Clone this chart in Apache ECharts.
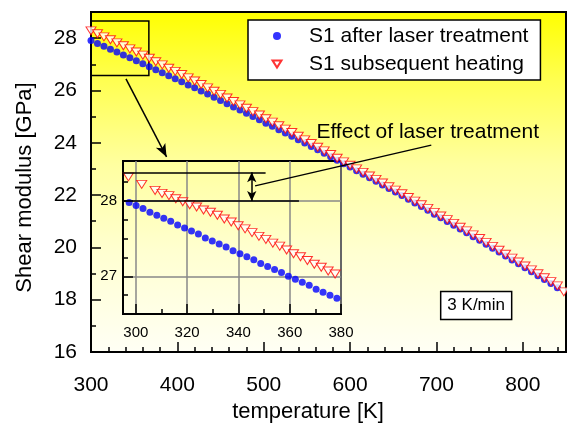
<!DOCTYPE html>
<html><head><meta charset="utf-8">
<script src="https://cdn.jsdelivr.net/npm/echarts@6/dist/echarts.min.js"></script>
<style>html,body{margin:0;padding:0;background:#fff}#c{width:567px;height:425px}</style>
</head><body><div id="c"></div>
<script>
// ---- main plot data ----
const mainTemps = [300,307.5,315,322.5,330,337.5,345,352.5,360,367.5,
  375,382.5,390,397.5,405,412.5,420,427.5,435,442.5,
  450,457.5,465,472.5,480,487.5,495,502.5,510,517.5,
  525,532.5,540,547.5,555,562.5,570,577.5,585,592.5,
  600,607.5,615,622.5,630,637.5,645,652.5,660,667.5,
  675,682.5,690,697.5,705,712.5,720,727.5,735,742.5,
  750,757.5,765,772.5,780,787.5,795,802.5,810,817.5,
  825,832.5,840];
const mainAfterLaser = [27.91,27.80,27.69,27.58,27.47,27.36,27.25,27.14,27.02,26.91,
  26.79,26.68,26.56,26.45,26.33,26.21,26.10,25.98,25.86,25.74,
  25.62,25.49,25.37,25.25,25.13,25.00,24.88,24.75,24.63,24.50,
  24.37,24.25,24.12,23.99,23.86,23.73,23.60,23.47,23.33,23.20,
  23.07,22.93,22.80,22.66,22.53,22.39,22.25,22.12,21.98,21.84,
  21.70,21.56,21.42,21.27,21.13,20.99,20.85,20.70,20.56,20.41,
  20.27,20.12,19.97,19.82,19.67,19.52,19.37,19.22,19.07,18.92,
  18.77,18.62,18.46];
const mainHeatingTemps = [300,307.5,315,322.5,330,337.5,345,352.5,360,367.5,
  375,382.5,390,397.5,405,412.5,420,427.5,435,442.5,
  450,457.5,465,472.5,480,487.5,495,502.5,510,517.5,
  525,532.5,540,547.5,555,562.5,570,577.5,585,592.5,
  600,607.5,615,622.5,630,637.5,645,652.5,660,667.5,
  675,682.5,690,697.5,705,712.5,720,727.5,735,742.5,
  750,757.5,765,772.5,780,787.5,795,802.5,810,817.5,
  825,832.5,840,847.5];
const mainHeating = [28.28,28.17,28.05,27.94,27.82,27.71,27.59,27.47,27.35,27.23,
  27.10,26.98,26.85,26.73,26.61,26.48,26.36,26.23,26.10,25.97,
  25.85,25.71,25.58,25.45,25.32,25.19,25.06,24.92,24.79,24.65,
  24.52,24.39,24.25,24.11,23.97,23.83,23.69,23.55,23.41,23.27,
  23.14,23.00,22.87,22.73,22.60,22.46,22.32,22.19,22.05,21.91,
  21.77,21.63,21.49,21.34,21.20,21.06,20.92,20.77,20.63,20.48,
  20.34,20.19,20.04,19.89,19.74,19.59,19.44,19.29,19.14,18.99,
  18.84,18.69,18.53,18.30];

// ---- inset data ----
const insetAfterTemps = [297.4,300.1,302.8,305.5,308.2,310.9,313.6,316.3,319.0,321.7,
  324.4,327.1,329.8,332.5,335.2,337.9,340.6,343.3,346.0,348.7,
  351.4,354.1,356.8,359.5,362.2,364.9,367.6,370.3,373.0,375.7,378.4];
const insetAfterLaser = [27.98,27.94,27.90,27.85,27.81,27.77,27.73,27.68,27.64,27.60,
  27.56,27.51,27.47,27.43,27.39,27.34,27.30,27.26,27.22,27.17,
  27.13,27.09,27.05,27.00,26.96,26.92,26.88,26.83,26.79,26.75,26.71];
const insetHeatingTemps = [297.1,302.3,307.5,310.2,312.9,315.6,318.3,321.0,323.7,326.4,
  329.1,331.8,334.5,337.2,339.9,342.6,345.3,348.0,350.7,353.4,
  356.1,358.8,361.5,364.2,366.9,369.6,372.3,375.0,377.7];
const insetHeating = [28.32,28.22,28.14,28.10,28.07,28.03,27.99,27.95,27.92,27.88,
  27.85,27.81,27.76,27.72,27.67,27.63,27.58,27.53,27.49,27.44,
  27.40,27.35,27.30,27.26,27.21,27.16,27.12,27.07,27.03];

// ---- ticks ----
const insetXMajor = [300,320,340,360,380];
const insetXMinor = [310,330,350,370];
const insetYMajor = [27,28];
const insetYMinor = [26.75,27.25,27.5,27.75,28.25];

// ---- texts & annotation anchors (data coordinates) ----
const seriesNames = ['S1 after laser treatment','S1 subsequent heating'];
const xTitle = 'temperature [K]';
const yTitle = 'Shear modulus [GPa]';
const effectText = 'Effect of laser treatment';
const rateText = '3 K/min';
const zoomBox = [[300,26.57],[367,28.66]];
const zoomArrow = [[340.5,26.44],[387.5,23.46]];
const levelHeating = 28.38, levelAfter = 28.0;
const levelHeatingEnd = 350.6, levelAfterEnd = 363.6, levelStart = 295;
const effectArrowX = 345.2;
const leaderStartInset = [346.5, 28.2];
const leaderEndMain = [694, 23.91];
const effectTextPos = [561, 24.39];
const rateTextPos = [746, 17.78];

const FONT = 'Liberation Sans, Arial, sans-serif';
const chart = echarts.init(document.getElementById('c'), null, {renderer:'canvas'});

const bg = {type:'linear', x:0, y:0, x2:0, y2:1, colorStops:[
  {offset:0, color:'#ffff00'},{offset:0.2, color:'#ffff50'},{offset:0.45, color:'#ffffa0'},
  {offset:0.7, color:'#ffffd0'},{offset:1, color:'#fffff5'}]};

function zip(a,b){ return a.map((v,i)=>[v,b[i]]); }

const option = {
  animation:false,
  backgroundColor:'#ffffff',
  legend:{
    data:[{name:seriesNames[0], icon:'circle'},
          {name:seriesNames[1], icon:'path://M0,0L10,0L5,8Z'}],
    orient:'vertical', left:248, top:20,
    backgroundColor:'#fff', borderColor:'#000', borderWidth:1.5,
    padding:[5,12,5,23.5], itemWidth:9, itemHeight:8, itemGap:6,
    textStyle:{color:'#000', fontSize:21, fontFamily:FONT, lineHeight:22, padding:[0,0,0,22.5]},
    selectedMode:false
  },
  grid:[
    {left:91, top:12, right:1, bottom:73, show:true, borderColor:'#000', borderWidth:2, backgroundColor:bg, outerBoundsMode:'none', containLabel:false},
    {left:123, top:161, width:218, height:153, show:true, borderColor:'#000', borderWidth:2, backgroundColor:'transparent', outerBoundsMode:'none', containLabel:false}
  ],
  xAxis:[
    {gridIndex:0, type:'value', position:'bottom', min:300, max:850, interval:100,
      axisLine:{onZero:false, lineStyle:{color:'#000', width:2}},
      axisTick:{inside:true, length:10, lineStyle:{color:'#000', width:1.5}},
      axisLabel:{color:'#000', fontSize:21, fontFamily:FONT, margin:23, showMaxLabel:false, hideOverlap:false},
      splitLine:{show:false},
      name:xTitle, nameLocation:'middle', nameGap:47,
      nameTextStyle:{color:'#000', fontSize:22, fontFamily:FONT, padding:[0,41,0,0]}},
    {gridIndex:0, type:'value', position:'bottom', offset:0, min:300, max:850, interval:20,
      axisLine:{show:false, onZero:false}, axisTick:{inside:true, length:5, lineStyle:{color:'#000', width:1.5}},
      axisLabel:{show:false}, splitLine:{show:false}},
    {gridIndex:1, type:'value', position:'bottom', min:295, max:380,
      axisLine:{onZero:false, lineStyle:{color:'#000', width:2}},
      axisTick:{inside:true, length:10, customValues:insetXMajor, lineStyle:{color:'#000', width:1.5}},
      axisLabel:{customValues:insetXMajor, color:'#000', fontSize:15, fontFamily:FONT, margin:11, hideOverlap:false},
      splitLine:{show:true, lineStyle:{color:'#888', width:1.5}}},
    {gridIndex:1, type:'value', position:'bottom', offset:0, min:295, max:380,
      axisLine:{show:false, onZero:false},
      axisTick:{inside:true, length:5, customValues:insetXMinor, lineStyle:{color:'#000', width:1.5}},
      axisLabel:{show:false}, splitLine:{show:false}}
  ],
  yAxis:[
    {gridIndex:0, type:'value', position:'left', min:16, max:29, interval:2,
      axisLine:{onZero:false, lineStyle:{color:'#000', width:2}},
      axisTick:{inside:true, length:10, lineStyle:{color:'#000', width:1.5}},
      axisLabel:{color:'#000', fontSize:21, fontFamily:FONT, margin:14, showMaxLabel:false, hideOverlap:false},
      splitLine:{show:false},
      name:yTitle, nameLocation:'middle', nameGap:55,
      nameTextStyle:{color:'#000', fontSize:22, fontFamily:FONT, padding:[0,11,0,0]}},
    {gridIndex:0, type:'value', position:'left', offset:0, min:16, max:29, interval:1,
      axisLine:{show:false, onZero:false}, axisTick:{inside:true, length:5, lineStyle:{color:'#000', width:1.5}},
      axisLabel:{show:false}, splitLine:{show:false}},
    {gridIndex:1, type:'value', position:'left', min:26.5, max:28.53, splitNumber:2,
      axisLine:{onZero:false, lineStyle:{color:'#000', width:2}},
      axisTick:{inside:true, length:10, customValues:insetYMajor, lineStyle:{color:'#000', width:1.5}},
      axisLabel:{customValues:insetYMajor, color:'#000', fontSize:15, fontFamily:FONT, margin:6, hideOverlap:false},
      splitLine:{show:true, lineStyle:{color:'#888', width:1.5}}},
    {gridIndex:1, type:'value', position:'left', offset:0, min:26.5, max:28.53,
      axisLine:{show:false, onZero:false},
      axisTick:{inside:true, length:5, customValues:insetYMinor, lineStyle:{color:'#000', width:1.5}},
      axisLabel:{show:false}, splitLine:{show:false}}
  ],
  series:[
    {name:seriesNames[0], type:'scatter', xAxisIndex:0, yAxisIndex:0, data:zip(mainTemps, mainAfterLaser),
      symbol:'circle', symbolSize:7, itemStyle:{color:'#0000ff'}, silent:true,
      markArea:{silent:true, itemStyle:{color:'rgba(0,0,0,0)', borderColor:'#000', borderWidth:1.5}, label:{show:false},
        data:[[{coord:zoomBox[0]},{coord:zoomBox[1]}]]},
      markLine:{silent:true, symbol:['none','arrow'], symbolSize:[8,13], label:{show:false},
        lineStyle:{color:'#000', width:1.5, type:'solid'},
        data:[[{coord:zoomArrow[0]},{coord:zoomArrow[1]}]]}},
    {name:seriesNames[1], type:'scatter', xAxisIndex:0, yAxisIndex:0, data:zip(mainHeatingTemps, mainHeating),
      symbol:'triangle', symbolRotate:180, symbolSize:[10,8], silent:true,
      itemStyle:{color:'#ffffff', borderColor:'#ff0000', borderWidth:1}},
    {name:'inset after', type:'scatter', xAxisIndex:2, yAxisIndex:2, data:zip(insetAfterTemps, insetAfterLaser),
      symbol:'circle', symbolSize:7, itemStyle:{color:'#0000ff'}, silent:true},
    {name:'inset heating', type:'scatter', xAxisIndex:2, yAxisIndex:2, data:zip(insetHeatingTemps, insetHeating),
      symbol:'triangle', symbolRotate:180, symbolSize:[10,8], silent:true,
      itemStyle:{color:'#ffffff', borderColor:'#ff0000', borderWidth:1},
      markLine:{silent:true, label:{show:false}, lineStyle:{color:'#000', width:1.5, type:'solid'},
        symbol:'none',
        data:[
          [{coord:[levelStart, levelHeating]},{coord:[levelHeatingEnd, levelHeating]}],
          [{coord:[levelStart, levelAfter]},{coord:[levelAfterEnd, levelAfter]}],
          [{coord:[effectArrowX, levelHeating], symbol:'arrow', symbolSize:[7,10]},{coord:[effectArrowX, levelAfter], symbol:'arrow', symbolSize:[7,10]}]
        ]}}
  ]
};
chart.setOption(option);

const p0 = chart.convertToPixel({xAxisIndex:2, yAxisIndex:2}, leaderStartInset);
const p1 = chart.convertToPixel({xAxisIndex:0, yAxisIndex:0}, leaderEndMain);
const pt = chart.convertToPixel({xAxisIndex:0, yAxisIndex:0}, effectTextPos);
const pr = chart.convertToPixel({xAxisIndex:0, yAxisIndex:0}, rateTextPos);

chart.setOption({graphic:[
  {type:'line', z:100, silent:true, shape:{x1:p0[0], y1:p0[1], x2:p1[0], y2:p1[1]}, style:{stroke:'#000', lineWidth:1.5}},
  {type:'text', z:100, silent:true, x:pt[0], y:pt[1], style:{text:effectText, fill:'#000', fontSize:21, fontFamily:FONT, align:'left', verticalAlign:'middle'}},
  {type:'rect', z:100, silent:true, shape:{x:pr[0]-35.5, y:pr[1]-14, width:71, height:28}, style:{fill:'#fff', stroke:'#000', lineWidth:1.5}},
  {type:'text', z:101, silent:true, x:pr[0], y:pr[1], style:{text:rateText, fill:'#000', fontSize:17, fontFamily:FONT, align:'center', verticalAlign:'middle'}}
]});
</script></body></html>
